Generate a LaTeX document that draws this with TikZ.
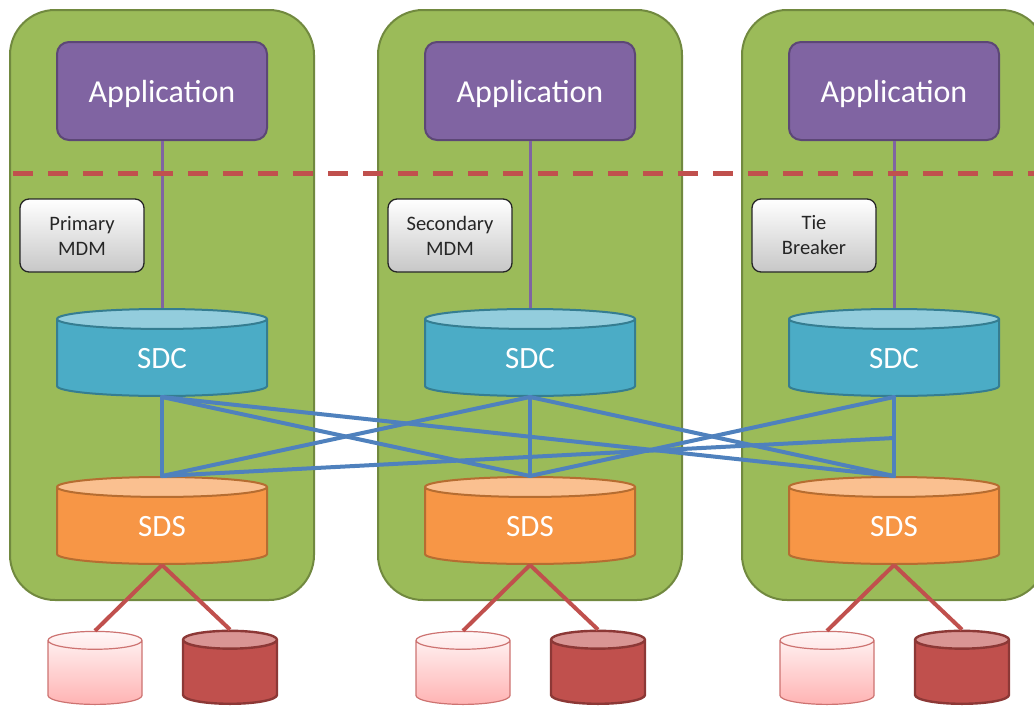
\documentclass[tikz,border=0pt]{standalone}
\usepackage{fontspec}
\setmainfont{Carlito}
\usepackage{tikz}
\usetikzlibrary{shapes.geometric}

\definecolor{panelgreen}{HTML}{9BBB59}
\definecolor{paneledge}{HTML}{71893F}
\definecolor{apppurple}{HTML}{8064A2}
\definecolor{appedge}{HTML}{5C4776}
\definecolor{sdcblue}{HTML}{4BACC6}
\definecolor{sdctop}{HTML}{93CDDD}
\definecolor{sdcedge}{HTML}{357D91}
\definecolor{sdsorange}{HTML}{F79646}
\definecolor{sdstop}{HTML}{FAC090}
\definecolor{sdsedge}{HTML}{B66D31}
\definecolor{linkblue}{HTML}{4F81BD}
\definecolor{diskred}{HTML}{C0504D}
\definecolor{disktop}{HTML}{D99594}
\definecolor{diskedge}{HTML}{8C3836}
\definecolor{diskpink}{HTML}{FFB3B3}

\tikzset{
  panel/.style={draw=paneledge,fill=panelgreen,line width=2pt,rounded corners=45pt,
    minimum width=304pt,minimum height=590pt},
  appbox/.style={draw=appedge,fill=apppurple,line width=2pt,rounded corners=12pt,
    minimum width=210pt,minimum height=98pt,text=white,text depth=0pt,
    font=\fontsize{32}{36}\selectfont},
  rolebox/.style={draw=black!85,top color=white,bottom color=black!22,line width=1.3pt,
    rounded corners=9pt,minimum width=124pt,minimum height=73pt,align=center,
    text=black!85,font=\fontsize{20.5}{25}\selectfont},
  db/.style={cylinder,shape border rotate=90,inner sep=0pt,align=center,anchor=south},
  sdcdb/.style={db,draw=sdcedge,line width=2pt,cylinder uses custom fill,
    cylinder body fill=sdcblue,cylinder end fill=sdctop,
    text width=210pt,minimum width=210pt,minimum height=87pt,aspect=0.095,
    text=white,text depth=0pt,font=\fontsize{31}{34}\selectfont},
  sdsdb/.style={sdcdb,draw=sdsedge,cylinder body fill=sdsorange,cylinder end fill=sdstop},
  diskpale/.style={db,draw=diskred!80,line width=1.2pt,top color=diskpink!10,
    bottom color=diskpink,text width=94pt,minimum width=94pt,minimum height=73pt,aspect=0.19},
  diskdark/.style={db,draw=diskedge,line width=2.4pt,cylinder uses custom fill,
    cylinder body fill=diskred,cylinder end fill=disktop,
    text width=94pt,minimum width=94pt,minimum height=73pt,aspect=0.19},
  pline/.style={apppurple,line width=3pt},
  bline/.style={linkblue,line width=4pt,line cap=round,line join=round},
  rline/.style={diskred,line width=4pt},
  fence/.style={diskred,line width=5pt,dash pattern=on 20pt off 15pt}
}

\begin{document}
\begin{tikzpicture}[x=1pt,y=-1pt]
  \path[use as bounding box,clip] (0,0) rectangle (1034,707);

  % one column per host
  \foreach \n/\x/\role in {1/162/{Primary\\MDM},2/530/{Secondary\\MDM},3/894/{Tie\\Breaker}} {
    \node[panel] (panel\n) at (\x,305) {};
    \node[appbox] (app\n) at (\x,91) {Application};
    \node[rolebox] (role\n) at ({\x-80},235.5) {\role};
    \node[sdcdb] (sdc\n) at (\x,397) {SDC};
    \node[sdsdb] (sds\n) at (\x,565) {SDS};
    \node[diskpale] (dska\n) at ({\x-67},705) {};
    \node[diskdark] (dskb\n) at ({\x+68},705) {};
    \draw[pline] (app\n.south) -- (sdc\n.north);
    \draw[rline] (sds\n.south) -- (dska\n.north);
    \draw[rline] (sds\n.south) -- (dskb\n.north);
  }

  % dashed boundary
  \coordinate (fenceL) at (13,173);
  \coordinate (fenceR) at (1040,173);
  \draw[fence] (fenceL) -- (fenceR);

  % SDC to SDS links
  \coordinate (mid3) at (sdc3.south |- 0,438);
  \draw[bline] (sdc1.south) -- (sds1.north);
  \draw[bline] (sdc2.south) -- (sds2.north);
  \draw[bline] (sdc3.south) -- (sds3.north);
  \draw[bline] (sdc1.south) -- (sds2.north);
  \draw[bline] (sdc1.south) -- (sds3.north);
  \draw[bline] (sdc2.south) -- (sds1.north);
  \draw[bline] (sdc2.south) -- (sds3.north);
  \draw[bline] (sdc3.south) -- (sds2.north);
  \draw[bline] (sds1.north) -- (mid3);
\end{tikzpicture}
\end{document}
